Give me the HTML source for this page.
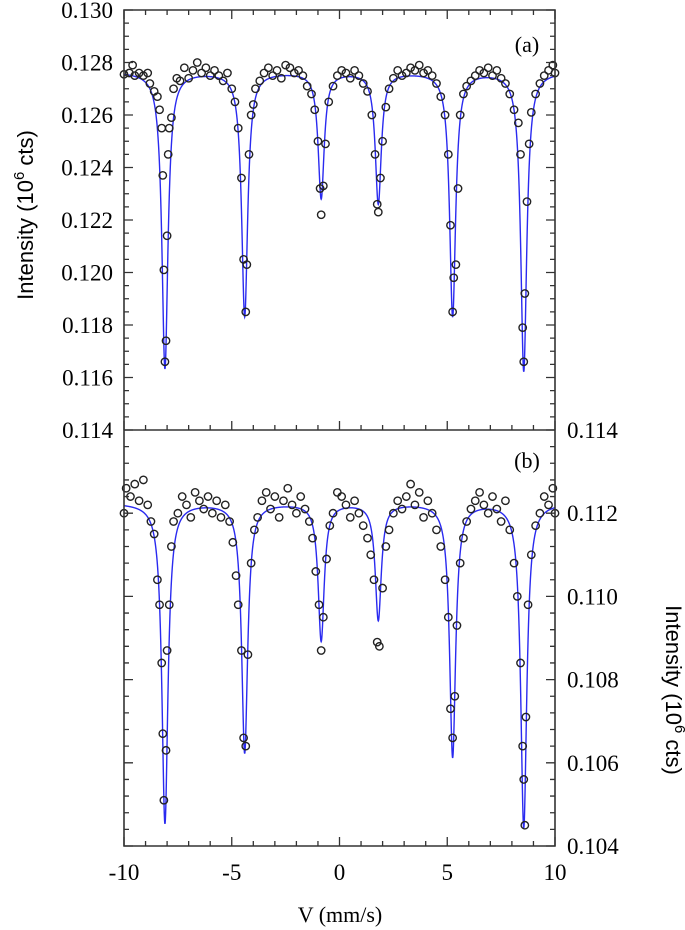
<!DOCTYPE html>
<html><head><meta charset="utf-8"><style>
html,body{margin:0;padding:0;background:#fff;}
svg{display:block;font-family:"Liberation Serif",serif;}
</style></head><body>
<svg id="chart" width="685" height="930" viewBox="0 0 685 930" xmlns="http://www.w3.org/2000/svg">
<text x="0" y="0" transform="translate(33,215) rotate(-90)" font-size="22" text-anchor="middle" font-family="Liberation Sans, sans-serif">Intensity (10<tspan dy="-9" font-size="15">6</tspan><tspan dy="9"> cts)</tspan></text>
<text x="0" y="0" transform="translate(666,690) rotate(90)" font-size="22" text-anchor="middle" font-family="Liberation Sans, sans-serif">Intensity (10<tspan dy="-9" font-size="15">6</tspan><tspan dy="9"> cts)</tspan></text>
<text x="340" y="922" font-size="22" text-anchor="middle">V (mm/s)</text>
<text x="527" y="52" font-size="22" text-anchor="middle">(a)</text>
<text x="527" y="468" font-size="22" text-anchor="middle">(b)</text>
</svg>
<script>
const xTicks=[-10,-5,0,5,10];
const yTicksA=[0.130,0.128,0.126,0.124,0.122,0.120,0.118,0.116,0.114];
const yTicksB=[0.114,0.112,0.110,0.108,0.106,0.104];
const linePos=[-8.1,-4.4,-0.85,1.8,5.25,8.55];
const depthA=[0.0113,0.0093,0.0048,0.0050,0.0093,0.0114];
const depthB=[0.0077,0.0060,0.0033,0.0028,0.0061,0.0078];
const baseA=[0.12765];
const baseB=[0.11225];
const widthHW=[0.17];
const ptsAx=[-10,-9.75,-9.6,-9.5,-9.3,-9.1,-8.9,-8.8,-8.6,-8.45,-8.35,-8.25,-8.2,-8.15,-8.1,-8.05,-8.0,-7.95,-7.9,-7.8,-7.7,-7.55,-7.4,-7.2,-7.0,-6.8,-6.6,-6.4,-6.2,-6.0,-5.8,-5.6,-5.4,-5.2,-5.0,-4.85,-4.7,-4.55,-4.45,-4.35,-4.3,-4.2,-4.1,-4.0,-3.9,-3.7,-3.5,-3.3,-3.1,-2.9,-2.7,-2.5,-2.3,-2.1,-1.9,-1.7,-1.5,-1.3,-1.15,-1.0,-0.9,-0.85,-0.75,-0.65,-0.5,-0.3,-0.1,0.1,0.3,0.5,0.7,0.9,1.1,1.3,1.5,1.65,1.75,1.8,1.9,2.0,2.15,2.3,2.5,2.7,2.9,3.1,3.3,3.5,3.7,3.9,4.1,4.3,4.5,4.7,4.9,5.05,5.15,5.25,5.3,5.4,5.5,5.6,5.75,5.9,6.1,6.3,6.5,6.7,6.9,7.1,7.3,7.5,7.7,7.9,8.1,8.3,8.4,8.5,8.55,8.6,8.7,8.8,8.9,9.1,9.3,9.5,9.7,9.9,10];
const ptsAy=[.12755,.1276,.1279,.1275,.1276,.1275,.1276,.1272,.1269,.1267,.1262,.1255,.1237,.1201,.1166,.1174,.1214,.1245,.1255,.1259,.1270,.1274,.1273,.1278,.1274,.1277,.1280,.1276,.1278,.1275,.1277,.1275,.1273,.1276,.1270,.1265,.1255,.1236,.1205,.1185,.1203,.1245,.1260,.1264,.1270,.1273,.1276,.1278,.1275,.1277,.1274,.1279,.1278,.1276,.1277,.1275,.1271,.1268,.1262,.1250,.1232,.1222,.1233,.1249,.1265,.1271,.1275,.1277,.1276,.1274,.1277,.1275,.1272,.1269,.1260,.1245,.1226,.1223,.1236,.1250,.1263,.1270,.1274,.1277,.1275,.1276,.1278,.1277,.1279,.1276,.1277,.1275,.1272,.1267,.1260,.1245,.1218,.1185,.1198,.1203,.1232,.1260,.1268,.1271,.1273,.1275,.1277,.1276,.1278,.1275,.1277,.1274,.1272,.1268,.1262,.1257,.1245,.1179,.1166,.1192,.1227,.1249,.1261,.1268,.1272,.1275,.1277,.1279,.1276];
const ptsBx=[-10,-9.9,-9.7,-9.5,-9.3,-9.1,-8.9,-8.75,-8.6,-8.45,-8.35,-8.25,-8.2,-8.15,-8.05,-8.0,-7.9,-7.8,-7.7,-7.5,-7.3,-7.1,-6.9,-6.7,-6.5,-6.3,-6.1,-5.9,-5.7,-5.5,-5.3,-5.1,-4.95,-4.8,-4.7,-4.55,-4.45,-4.35,-4.25,-4.1,-3.95,-3.8,-3.6,-3.4,-3.2,-3.0,-2.8,-2.6,-2.4,-2.2,-2.0,-1.8,-1.6,-1.4,-1.25,-1.1,-0.95,-0.85,-0.75,-0.6,-0.45,-0.3,-0.1,0.1,0.3,0.5,0.7,0.9,1.1,1.3,1.45,1.6,1.75,1.85,2.0,2.15,2.3,2.5,2.7,2.9,3.1,3.3,3.5,3.7,3.9,4.1,4.3,4.5,4.7,4.9,5.05,5.15,5.25,5.35,5.45,5.6,5.75,5.9,6.1,6.3,6.5,6.7,6.9,7.1,7.3,7.5,7.7,7.9,8.1,8.25,8.4,8.5,8.55,8.6,8.65,8.75,8.9,9.1,9.3,9.5,9.7,9.9,10];
const ptsBy=[.1120,.1126,.1124,.1127,.1123,.1128,.1122,.1118,.1115,.1104,.1098,.1084,.1067,.1051,.1063,.1087,.1098,.1112,.1118,.1120,.1124,.1122,.1119,.1125,.1123,.1121,.1124,.1120,.1123,.1119,.1122,.1118,.1113,.1105,.1098,.1087,.1066,.1064,.1086,.1108,.1116,.1119,.1123,.1125,.1121,.1124,.1119,.1123,.1126,.1122,.1120,.1124,.1121,.1118,.1114,.1106,.1098,.1087,.1095,.1109,.1117,.1120,.1125,.1124,.1122,.1119,.1123,.1120,.1117,.1114,.1110,.1104,.1089,.1088,.1102,.1112,.1116,.1120,.1123,.1121,.1124,.1127,.1122,.1125,.1119,.1123,.1120,.1116,.1112,.1104,.1095,.1073,.1066,.1076,.1093,.1108,.1114,.1118,.1121,.1123,.1125,.1122,.1120,.1124,.1121,.1118,.1123,.1116,.1108,.1100,.1084,.1064,.1056,.1045,.1071,.1098,.1110,.1117,.1120,.1124,.1122,.1126,.1120];

const svg=document.getElementById('chart');
const NS='http://www.w3.org/2000/svg';
const L=124,R=555,T=10,M=430,B=846;
const sx=v=>L+(v+10)/20*(R-L);
const syA=v=>T+(0.130-v)/0.016*(M-T);
const syB=v=>M+(0.114-v)/0.010*(B-M);
function mk(tag,attrs){const e=document.createElementNS(NS,tag);for(const k in attrs)e.setAttribute(k,attrs[k]);svg.appendChild(e);return e;}
function model(x,base,depth){let y=base;for(let i=0;i<linePos.length;i++){const u=(x-linePos[i])/widthHW[0];y-=depth[i]/(1+u*u);}return y;}

function drawFit(base,depth,sy,name){
  let d='';for(let i=0;i<=2000;i++){const x=-10+i*0.01;d+=(i?'L':'M')+sx(x).toFixed(2)+','+sy(model(x,base,depth)).toFixed(2);}
  const p=mk('path',{d:d,fill:'none',stroke:'#2a2af0','stroke-width':1.4});
  
  
}
drawFit(baseA[0],depthA,syA,'fit-curve-a');
drawFit(baseB[0],depthB,syB,'fit-curve-b');

function drawPts(xs,ys,sy,name){
  for(let i=0;i<xs.length;i++){
    const c=mk('circle',{cx:sx(xs[i]),cy:sy(ys[i]),r:3.7,fill:'none',stroke:'#222','stroke-width':1.4});
    
    
  }
}
drawPts(ptsAx,ptsAy,syA,'data-point-a');
drawPts(ptsBx,ptsBy,syB,'data-point-b');

const fr=mk('path',{d:`M${L},${T}H${R}V${B}H${L}Z M${L},${M}H${R}`,fill:'none',stroke:'#333','stroke-width':1.6});



let tk='';
for(let v=-10;v<=10;v++){const x=sx(v);const len=(v%5===0)?9:5;
  tk+=`M${x},${B}v${-len}M${x},${M}v${-len}M${x},${T}v${len}`;}
for(let k=0;k<=32;k++){const v=0.130-k*0.0005;const y=syA(v);const len=(k%4===0)?9:5;tk+=`M${L},${y}h${len}M${R},${y}h${-len}`;}
for(let k=0;k<=25;k++){const v=0.114-k*0.0004;const y=syB(v);const len=(k%5===0)?9:5;tk+=`M${L},${y}h${len}M${R},${y}h${-len}`;}
const tp=mk('path',{d:tk,stroke:'#333','stroke-width':1.3,fill:'none'});



for(const v of xTicks){const t=mk('text',{x:sx(v),y:880,'font-size':23,'text-anchor':'middle'});t.textContent=String(v);
  
  }
for(const v of yTicksA){const t=mk('text',{x:113,y:syA(v)+8,'font-size':23,'text-anchor':'end'});t.textContent=v.toFixed(3);
  
  }
for(const v of yTicksB){const t=mk('text',{x:567,y:syB(v)+8,'font-size':23,'text-anchor':'start'});t.textContent=v.toFixed(3);
  
  }
</script>
</body></html>
